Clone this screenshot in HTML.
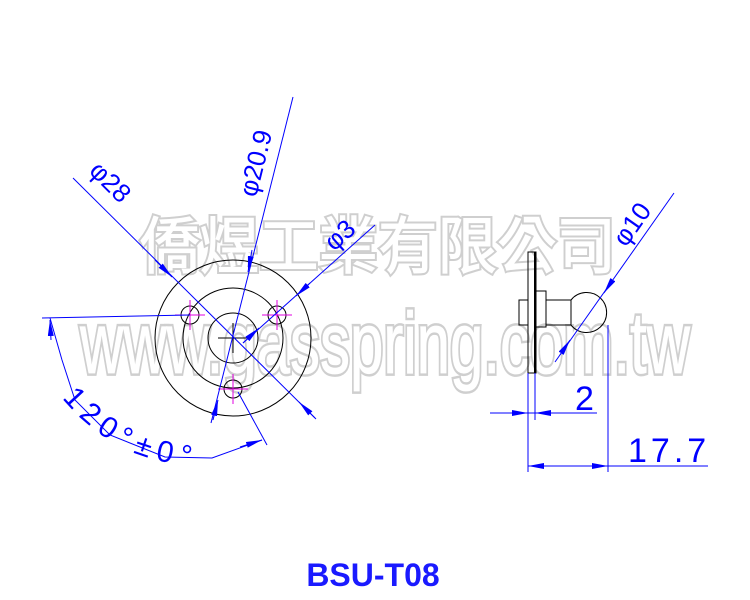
<!DOCTYPE html>
<html><head><meta charset="utf-8"><style>html,body{margin:0;padding:0;background:#fff}svg{display:block}</style></head>
<body>
<svg width="750" height="600" viewBox="0 0 750 600" xmlns="http://www.w3.org/2000/svg">
<defs>
<marker id="a" viewBox="0 0 16 6" refX="16" refY="3" markerWidth="16" markerHeight="6" markerUnits="userSpaceOnUse" orient="auto-start-reverse"><path d="M0,0 L16,3 L0,6 Z" fill="#0000ff"/></marker>
<path id="tp" d="M62,398 Q105,450 165,462 T230,468"/>
</defs>
<g font-family="'Liberation Sans','Noto Sans CJK TC',sans-serif">
<text x="140" y="268" font-size="62" textLength="476" lengthAdjust="spacingAndGlyphs" fill="none" stroke="#cfcfcf" stroke-width="5">僑煜工業有限公司</text>
<text x="140" y="268" font-size="62" textLength="476" lengthAdjust="spacingAndGlyphs" fill="#fff" stroke="#fff" stroke-width="1">僑煜工業有限公司</text>
<g transform="translate(80,373) scale(1,1.45)">
<text x="0" y="0" font-size="60" textLength="610" lengthAdjust="spacingAndGlyphs" fill="none" stroke="#cfcfcf" stroke-width="4">www.gasspring.com.tw</text>
<text x="0" y="0" font-size="60" textLength="610" lengthAdjust="spacingAndGlyphs" fill="#fff" stroke="#fff" stroke-width="0.6">www.gasspring.com.tw</text>
</g>
</g>
<g fill="none" stroke="#000" stroke-width="1">
<circle cx="233" cy="338" r="78"/>
<circle cx="233" cy="338" r="50"/>
<circle cx="233" cy="338" r="25"/>
<circle cx="190" cy="315" r="9"/>
<circle cx="277" cy="315" r="9"/>
<circle cx="233" cy="389" r="9"/>
<path d="M218,338 H248 M233,323 V353"/>
</g>
<g stroke="#e000e0" stroke-width="1">
<path d="M175,315 H205 M190,300 V330 M262,315 H292 M277,300 V330 M218,389 H248 M233,374 V404"/>
</g>
<g fill="none" stroke="#0000ff" stroke-width="1">
<line x1="73" y1="178" x2="315" y2="418"/>
<line x1="155" y1="260" x2="172" y2="277" marker-end="url(#a)"/>
<line x1="316" y1="419" x2="299" y2="402" marker-end="url(#a)"/>
<line x1="293" y1="97" x2="211" y2="423"/>
<line x1="252" y1="250" x2="248" y2="272" marker-end="url(#a)"/>
<line x1="213" y1="420" x2="218" y2="400" marker-end="url(#a)"/>
<line x1="375" y1="225" x2="243" y2="343"/>
<line x1="310" y1="283" x2="296" y2="296" marker-end="url(#a)"/>
<line x1="243" y1="343" x2="259" y2="328" marker-end="url(#a)"/>
<line x1="42" y1="318" x2="190" y2="315"/>
<line x1="238" y1="392" x2="267" y2="445"/>
<path d="M50,318 L62,360 L75,400 L110,435 L165,457 L212,458 L262,440"/>
<line x1="51" y1="340" x2="50" y2="320" marker-end="url(#a)"/>
<line x1="240" y1="447" x2="262" y2="440" marker-end="url(#a)"/>
</g>
<g fill="#0000ff" font-family="'Liberation Sans',sans-serif" font-size="26">
<text transform="translate(88,172) rotate(45)">φ28</text>
<text transform="translate(256,198) rotate(-76)">φ20.9</text>
<text transform="translate(334,252) rotate(-42)">φ3</text>
<text font-size="30" letter-spacing="7"><textPath href="#tp">120°±0°</textPath></text>
<text transform="translate(626,248) rotate(-55)">φ10</text>
<text x="575" y="410" font-size="34">2</text>
<text x="628" y="462" font-size="34" letter-spacing="4">17.7</text>
</g>
<g fill="none" stroke="#000" stroke-width="1">
<rect x="528" y="252" width="8" height="121"/>
<line x1="535" y1="252" x2="535" y2="373" stroke-width="2"/>
<rect x="519" y="300" width="9" height="25"/>
<rect x="536" y="291" width="10" height="36"/>
<path d="M546,300 H571 M546,325 H571 M571,300 V325"/>
<path d="M571,300 A20,20 0 1 1 571,325"/>
</g>
<g fill="none" stroke="#0000ff" stroke-width="1">
<line x1="555" y1="362" x2="674" y2="193"/>
<line x1="612" y1="281" x2="604" y2="293" marker-end="url(#a)"/>
<line x1="560" y1="355" x2="570" y2="340" marker-end="url(#a)"/>
<line x1="528" y1="373" x2="528" y2="472"/>
<line x1="535" y1="373" x2="535" y2="420"/>
<line x1="608" y1="325" x2="608" y2="472"/>
<line x1="490" y1="413" x2="597" y2="413"/>
<line x1="510" y1="413" x2="528" y2="413" marker-end="url(#a)"/>
<line x1="555" y1="413" x2="535" y2="413" marker-end="url(#a)"/>
<line x1="528" y1="466" x2="708" y2="466"/>
<line x1="548" y1="466" x2="528" y2="466" marker-end="url(#a)"/>
<line x1="588" y1="466" x2="608" y2="466" marker-end="url(#a)"/>
</g>
<text x="373" y="586" text-anchor="middle" font-family="'Liberation Sans',sans-serif" font-weight="bold" font-size="32" fill="#1a1aff">BSU-T08</text>
</svg>
</body></html>
